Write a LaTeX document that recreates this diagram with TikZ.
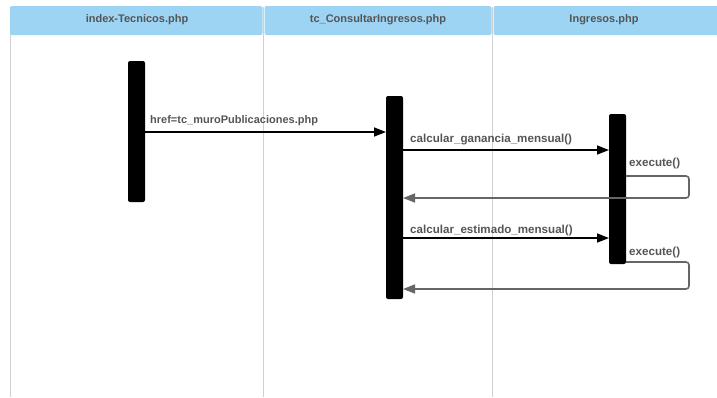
\documentclass[tikz,border=0pt]{standalone}
\usepackage{fontspec}
\setmainfont{Liberation Sans}
\usetikzlibrary{arrows.meta}
\definecolor{hdrblue}{HTML}{9DD3F3}
\definecolor{lanegray}{HTML}{D0D0D0}
\definecolor{txtgray}{HTML}{555555}
\definecolor{retgray}{HTML}{666666}
\begin{document}
\begin{tikzpicture}[x=1pt,y=-1pt,
  hdr/.style={fill=hdrblue, draw=none, rounded corners=2pt},
  hdrtext/.style={text=txtgray, font=\bfseries\fontsize{11}{12}\selectfont},
  lbl/.style={text=txtgray, font=\bfseries\fontsize{11.6}{13}\selectfont, anchor=base west, inner sep=0pt},
  bar/.style={fill=black, draw=none, rounded corners=2pt},
  call/.style={draw=black, line width=1.6pt, -{Triangle[length=12pt,width=9pt]}},
  ret/.style={draw=retgray, line width=1.6pt, rounded corners=3pt, -{Triangle[length=12pt,width=9pt]}},
  lane/.style={draw=lanegray, line width=0.8pt}]
\useasboundingbox (0,0) rectangle (717,397);
% swimlane boundaries
\draw[lane] (10,7) -- (10,397);
\draw[lane] (263.5,7) -- (263.5,397);
\draw[lane] (492.5,7) -- (492.5,397);
% lane headers
\fill[hdr] (10,6) rectangle (262.5,35);
\fill[hdr] (264.5,6) rectangle (491.5,35);
\fill[hdr] (493.5,6) rectangle (720,35);
\node[hdrtext] (h1) at (137,20) {index-Tecnicos.php};
\node[hdrtext] (h2) at (378,20) {tc\_ConsultarIngresos.php};
\node[hdrtext] (h3) at (604,20) {Ingresos.php};
% activation bars
\fill[bar] (128,61) rectangle (145,202);
\fill[bar] (386,96) rectangle (403,299);
\fill[bar] (609,114) rectangle (626,264);
\coordinate (a1) at (145,132);
\coordinate (b1) at (386,132);
\coordinate (b2) at (403,150);
\coordinate (c2) at (609,150);
\coordinate (c3) at (626,176);
\coordinate (b3) at (403,198);
\coordinate (b4) at (403,238);
\coordinate (c4) at (609,238);
\coordinate (c5) at (626,262);
\coordinate (b5) at (403,289);
% messages
\draw[call] (a1) -- (b1);
\node[lbl, font=\bfseries\fontsize{11}{12}\selectfont] (m1) at (150,123) {href=tc\_muroPublicaciones.php};
\draw[call] (b2) -- (c2);
\node[lbl] (m2) at (410,142) {calcular\_ganancia\_mensual()};
\draw[ret] (c3) -- (689,176) -- (689,198) -- (b3);
\node[lbl] (m3) at (629,166) {execute()};
\draw[call] (b4) -- (c4);
\node[lbl] (m4) at (410,233) {calcular\_estimado\_mensual()};
\draw[ret] (c5) -- (689,262) -- (689,289) -- (b5);
\node[lbl] (m5) at (629,255) {execute()};
\end{tikzpicture}
\end{document}
